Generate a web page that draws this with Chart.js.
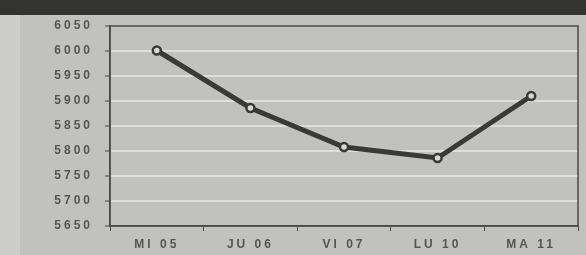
<!DOCTYPE html>
<html>
<head>
<meta charset="utf-8">
<script src="https://cdn.jsdelivr.net/npm/chart.js@4.4.1/dist/chart.umd.min.js"></script>
<style>
  html, body { margin: 0; padding: 0; }
  body { width: 586px; height: 255px; background: #cdcdcb; position: relative; overflow: hidden; }
  #band { position: absolute; left: 0; top: 0; width: 586px; height: 15px; background: #333331; }
  #panel { position: absolute; left: 20px; top: 15px; width: 566px; height: 240px; background: #c1c1bf; }
  #wrap { position: absolute; left: 0; top: 0; width: 586px; height: 255px; }
</style>
</head>
<body>
<div id="band"></div>
<div id="panel"></div>
<div id="wrap"><canvas id="myChart" width="586" height="255"></canvas></div>
<script>
// data
var labels = ['MI 05', 'JU 06', 'VI 07', 'LU 10', 'MA 11'];
var values = [6001, 5886, 5808, 5786, 5910];
var yMin = 5650;
var yMax = 6050;
var yStep = 50;

const ctx = document.getElementById('myChart');

// spaced out letters like the print
var spacing = {
  id: 'spacing',
  beforeUpdate: function (chart) { chart.ctx.letterSpacing = '3px'; },
  beforeDraw: function (chart) { chart.ctx.letterSpacing = '3px'; }
};

// dark frame round the plot
var frame = {
  id: 'frame',
  afterDatasetsDraw: function (chart) {
    var a = chart.chartArea;
    var c = chart.ctx;
    c.save();
    c.strokeStyle = '#4a4a48';
    c.lineWidth = 1.5;
    c.strokeRect(a.left, a.top, a.right - a.left, a.bottom - a.top);
    c.restore();
  }
};

var chart = new Chart(ctx, {
  type: 'line',
  data: {
    labels: labels,
    datasets: [{
      data: values,
      borderColor: '#393937',
      borderWidth: 5,
      tension: 0,
      fill: false,
      pointRadius: 4,
      pointBorderWidth: 2.5,
      pointBackgroundColor: '#d8d8d6',
      pointBorderColor: '#393937'
    }]
  },
  options: {
    responsive: false,
    animation: false,
    layout: { padding: { top: 26, right: 8, left: 0, bottom: 0 } },
    plugins: { legend: { display: false }, tooltip: { enabled: false } },
    scales: {
      x: {
        offset: true,
        grid: { display: true, drawOnChartArea: false, offset: true, tickLength: 5, tickColor: '#4a4a48', lineWidth: 1 },
        border: { color: '#4a4a48', width: 1.5 },
        ticks: { autoSkip: false, color: '#555553', font: { family: 'Liberation Sans', size: 12, weight: 'bold' }, padding: 6, maxRotation: 0 },
        afterFit: function (s) { s.height = 29; }
      },
      y: {
        min: yMin,
        max: yMax,
        ticks: {
          autoSkip: false,
          stepSize: yStep,
          color: '#555553',
          font: { family: 'Liberation Sans', size: 12, weight: 'bold' },
          padding: 12,
          callback: function (v) { return String(v); }
        },
        grid: {
          color: function (c) { return (c.tick && (c.tick.value === yMin || c.tick.value === yMax)) ? 'rgba(0,0,0,0)' : '#dededc'; },
          lineWidth: 2,
          tickLength: 5,
          tickColor: '#4a4a48',
          tickWidth: 1
        },
        border: { color: '#4a4a48', width: 1.5 },
        afterFit: function (s) { s.width = 110; }
      }
    }
  },
  plugins: [spacing, frame]
});
</script>
</body>
</html>
